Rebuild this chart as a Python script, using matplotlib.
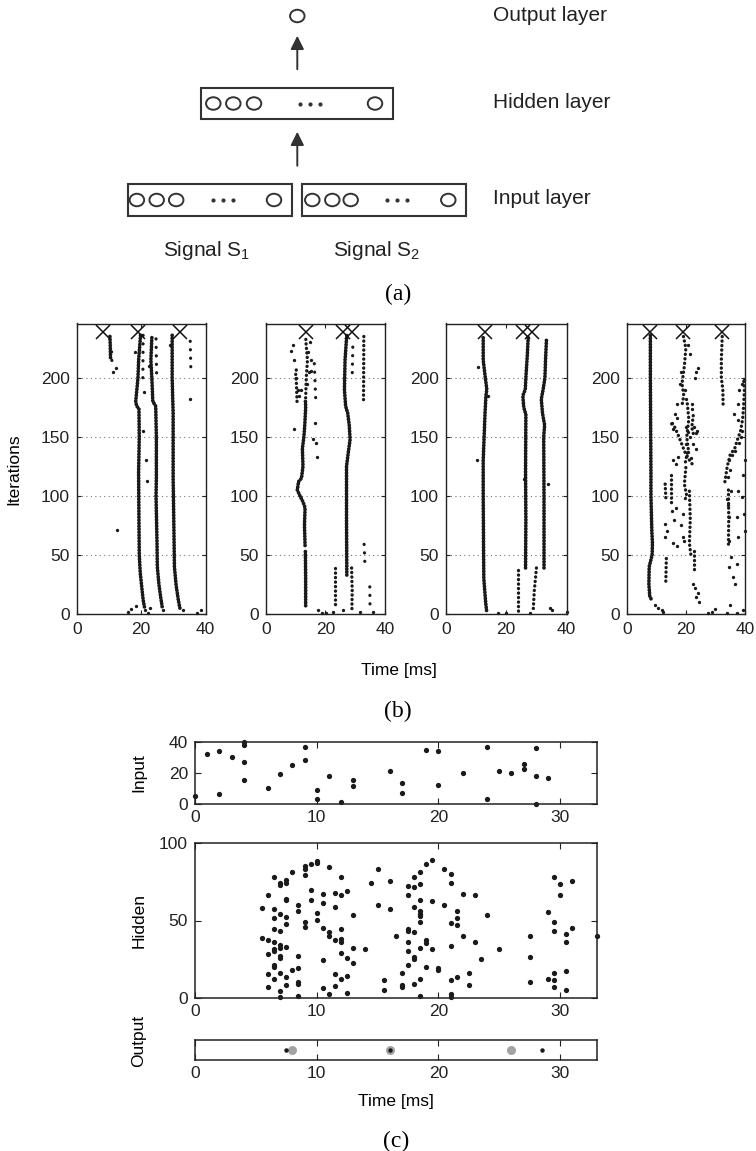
import matplotlib
matplotlib.use("Agg")
import matplotlib.pyplot as plt
from matplotlib.patches import Rectangle, Ellipse

plt.rcParams['font.family'] = ['Liberation Sans', 'DejaVu Sans']

# ---------------- data: panel (b) ----------------
cross_it = 239
b1_cross_t = [8, 19, 32]
b1_dense = [
    [(19.8, 236), (19.2, 215), (19.0, 200), (18.3, 180), (18.6, 176), (19.3, 174), (19.4, 150),
     (19.2, 120), (19.3, 80), (19.4, 50), (19.7, 35), (20.2, 22), (20.6, 12), (21.0, 6)],
    [(23.3, 234), (23.0, 215), (23.3, 200), (23.6, 180), (24.5, 176), (24.7, 150), (24.7, 115),
     (24.6, 100), (24.9, 60), (25.0, 40), (25.5, 25), (26.0, 15), (26.5, 6)],
    [(29.6, 236), (29.6, 200), (29.9, 170), (29.9, 115), (30.1, 80), (30.3, 40), (30.8, 25),
     (31.5, 12), (32.0, 5)],
    [(10.3, 235), (10.4, 228), (10.5, 215)],
]
b1_sparse = [
    [(20.6, 236), (20.5, 196)],
    [(24.6, 233), (24.8, 200)],
    [(35.2, 231), (35.4, 207)],
    [(10.8, 222), (11.0, 208)],
]
b1_dots_t = [11.3, 12.2, 12.4, 35.2, 21.5, 21.9, 20.5, 16.0, 16.8, 18.4, 21.2, 22.2, 26.9, 33.0,
             37.2, 38.5, 22.6, 18.0, 20.9, 22.5, 29.0]
b1_dots_it = [205, 208, 71, 182, 130, 113, 155, 2, 4.5, 7, 3, 1, 3, 3, 1, 3, 5, 222, 188, 210, 228]

b2_cross_t = [13.4, 25.8, 29.0]
b2_dense = [
    [(27.2, 33), (27.1, 80), (27.1, 125), (27.6, 135), (28.3, 148), (28.0, 160), (27.5, 170),
     (26.8, 176), (26.4, 190), (26.6, 215), (27.0, 230), (27.2, 236)],
    [(13.4, 7), (13.4, 30), (13.3, 53)],
    [(13.2, 58), (13.0, 75), (13.2, 90), (12.5, 95), (11.5, 100), (10.6, 105), (11.0, 112),
     (12.0, 115), (12.5, 125), (12.3, 140), (12.8, 150), (13.1, 160), (13.4, 175), (13.3, 182)],
]
b2_medium = [
    [(10.5, 180), (10.3, 195), (10.0, 205), (10.8, 210)],
    [(13.4, 183), (13.6, 200), (14.0, 215), (13.5, 230), (13.4, 236)],
    [(32.9, 235), (32.8, 181)],
    [(23.3, 39), (23.3, 5)],
    [(28.8, 39), (29.0, 20), (28.9, 3)],
]
b2_sparse = [
    [(16.3, 212), (16.8, 180)],
    [(29.2, 226), (29.0, 200)],
    [(33.0, 59), (33.3, 40)],
    [(34.9, 23), (35.0, 2)],
]
b2_dots_t = [15.9, 16.7, 16.5, 17.3, 9.5, 8.6, 9.3, 11.8, 14.5, 14.3, 15.3, 17.6, 19.0, 20.2,
             22.4, 25.8, 31.5, 36.0, 9.5, 10.2, 10.8, 11.3, 14.8, 15.2, 13.8]
b2_dots_it = [148, 145, 162, 133, 157, 223, 228, 190, 205, 222, 206, 3, 1, 1, 2, 3, 2, 2,
              215, 200, 190, 185, 230, 215, 195]

b3_cross_t = [13.0, 25.5, 28.6]
b3_dense = [
    [(13.5, 3), (13.2, 10), (12.6, 30), (12.5, 60), (12.4, 100), (12.4, 130), (12.7, 150),
     (13.0, 170), (13.3, 185), (13.6, 190), (13.1, 200), (12.4, 215), (12.4, 236)],
    [(26.4, 39), (26.5, 80), (26.4, 120), (26.5, 169), (25.8, 175), (25.5, 185), (26.3, 190),
     (26.5, 200), (27.0, 220), (27.3, 236)],
    [(32.5, 39), (32.5, 100), (32.4, 150), (32.7, 160), (32.0, 170), (31.6, 182), (32.2, 190),
     (32.8, 200), (33.0, 215), (33.3, 232)],
]
b3_medium = [
    [(24.0, 37), (24.0, 2)],
    [(30.0, 39), (29.3, 20), (28.9, 2)],
]
b3_dots_t = [10.4, 10.6, 34.4, 35.0, 17.4, 20.0, 40.0, 28.0, 14.0, 25.8, 33.8]
b3_dots_it = [130, 209, 5, 3, 1, 1, 2, 1, 185, 114, 110]

b4_cross_t = [7.9, 19.2, 32.3]
b4_dense = [
    [(8.0, 236), (8.0, 200), (8.1, 160), (8.2, 120), (8.2, 100), (8.5, 70), (8.7, 60),
     (8.6, 50), (7.6, 40), (7.5, 25), (7.8, 15), (8.6, 11)],
]
b4_medium = [
    [(19.2, 235), (20.0, 225), (19.5, 210), (18.7, 195), (19.3, 185), (18.8, 178)],
    [(15.0, 118), (15.0, 93)],
    [(20.0, 124), (19.5, 110), (20.3, 100), (19.3, 95)],
    [(21.2, 104), (21.5, 80), (21.2, 60), (21.8, 48)],
    [(22.9, 53), (22.9, 36)],
    [(32.3, 235), (32.0, 215), (32.0, 200), (32.5, 190), (32.6, 177)],
    [(34.4, 105), (34.5, 80), (34.4, 58)],
    [(13.4, 47), (13.2, 25)],
    [(13.0, 110), (13.3, 95)],
    [(33.2, 112), (34.0, 125), (35.0, 135), (36.5, 140), (37.5, 148), (38.5, 155), (39.2, 165),
     (39.5, 175), (39.8, 190), (39.5, 200)],
    [(15.2, 161), (16.3, 158), (17.5, 151), (18.6, 144), (19.7, 137), (21.5, 129), (22.5, 126)],
    [(20.5, 178), (21.0, 165), (20.3, 150), (20.8, 140), (19.8, 128)],
    [(22.5, 168), (22.0, 158), (22.8, 150)],
]
b4_dots_t = [9.5, 10.5, 11.8, 23.5, 24.0, 23.2, 22.0, 22.0, 16.9, 16.3, 16.9, 15.2, 15.8,
             20.2, 20.7, 21.3, 20.2, 20.7, 21.8, 22.9, 23.5, 23.9, 22.5, 23.5, 15.8, 16.6, 17.5,
             13.0, 13.5, 13.0, 15.2, 16.0, 15.5, 17.0, 18.5, 19.0, 19.2, 19.3, 16.8,
             22.5, 23.0, 24.0, 24.5, 23.5,
             38.0, 39.0, 39.5, 37.8, 36.4, 37.8, 39.0, 38.6, 38.0, 36.6, 35.5, 34.7, 34.9, 34.1,
             35.2, 39.4, 40.0, 33.8, 34.2, 34.6, 34.6, 35.3, 34.6, 36.0, 36.6, 37.2, 37.7, 37.2,
             38.9, 40.0, 39.7, 37.7,
             27.6, 28.7, 29.9, 33.8, 34.9, 37.2, 39.4, 12.4,
             21.5, 20.8, 18.2, 18.0, 19.6, 20.2]
b4_dots_it = [8, 5, 3, 205, 208, 200, 178, 174, 178, 169, 166, 162, 157,
              158, 154, 150, 144, 137, 132, 158, 153, 155, 144, 140, 130, 127, 133,
              76, 70, 65, 87, 80, 60, 58, 75, 85, 65, 62, 90,
              25, 22, 18, 10, 14,
              190, 195, 198, 178, 169, 164, 155, 150, 145, 138, 135, 130, 122, 116,
              104, 118, 130, 97, 92, 82, 62, 48, 40, 31, 25, 42, 65, 82,
              99, 70, 85, 104,
              1, 2, 4, 1, 8, 1, 3, 2,
              220, 228, 205, 195, 190, 182]

# ---------------- data: panel (c) ----------------
input_t = [0, 1, 2, 2, 3, 4, 4, 4, 4, 6, 7, 8, 9, 9, 10, 10, 11, 12, 13, 13, 16, 17, 17,
           19, 20, 20, 22, 24, 24, 25, 26, 27, 27, 28, 28, 28, 29]
input_n = [5, 32, 34, 6.5, 30.5, 40, 38, 27, 15.5, 10.5, 19.5, 25, 36.5, 28.5, 9, 3, 18, 1,
           15.5, 11.5, 21.5, 13.5, 7, 35, 34, 12.5, 20, 36.5, 3, 21.5, 20, 25.5, 22.5, 36,
           18, 0, 16.5]

hidden_t = [5.5, 5.5, 6, 6, 6, 6, 6,
            6.5, 6.5, 6.5, 6.5, 6.5, 6.5, 6.5, 6.5, 6.5, 6.5,
            7, 7, 7, 7, 7, 7, 7, 7, 7, 7, 7,
            7.5, 7.5, 7.5, 7.5, 7.5, 7.5, 7.5, 7.5, 7.5,
            8, 8,
            8.5, 8.5, 8.5, 8.5, 8.5, 8.5, 8.5,
            9, 9, 9, 9, 9,
            9.5, 9.5, 9.5,
            10, 10, 10, 10,
            10.5, 10.5, 10.5, 10.5, 10.5,
            11, 11, 11, 11,
            11.5, 11.5, 11.5, 11.5, 11.5,
            12, 12, 12, 12, 12, 12, 12,
            12.5, 12.5, 12.5, 12.5,
            13, 13, 13,
            14, 14.5, 15, 15, 15.5, 15.5, 16, 16, 16.5,
            17, 17, 17,
            17.5, 17.5, 17.5, 17.5, 17.5, 17.5, 17.5,
            18, 18, 18, 18, 18, 18, 18,
            18.5, 18.5, 18.5, 18.5, 18.5, 18.5, 18.5, 18.5, 18.5, 18.5,
            19, 19, 19, 19,
            19.5, 19.5, 19.5,
            20, 20,
            20.5, 20.5,
            21, 21, 21, 21, 21, 21, 21,
            21.5, 21.5, 21.5, 21.5,
            22, 22, 22.5, 22.5, 23, 23, 23.5, 24, 25,
            27.5, 27.5, 27.5,
            29, 29,
            29.5, 29.5, 29.5, 29.5, 29.5, 29.5,
            30, 30,
            30.5, 30.5, 30.5, 30.5,
            31, 31,
            33]
hidden_n = [58, 39, 66.5, 37.5, 28.5, 15.5, 7,
            78, 57.5, 51.5, 44.5, 36, 31.5, 30.5, 21.5, 20, 12.5,
            73, 74.5, 54, 43.5, 34, 32.5, 27, 25.5, 16, 4.5, 0.5,
            76, 74, 64, 63, 52, 48, 33, 13.5, 8.5,
            81, 18,
            60, 56, 27, 19.5, 10.5, 9, 1.5,
            85, 83, 79.5, 49, 46,
            86.5, 70, 63,
            88.5, 87, 55, 50.5,
            67, 61, 45, 24.5, 6.5,
            84.5, 42.5, 40, 2.8,
            68, 59, 37.5, 15.5, 7.5,
            78, 66.5, 44.5, 38, 36, 29, 12.5,
            69, 25.5, 14.5, 3.2,
            53.5, 32.3, 22.6,
            31.6, 74, 83, 60, 11.4, 5.2, 75.5, 57.4, 40,
            16, 8.6, 7.1,
            72.3, 66.5, 44.5, 43.4, 36, 30.3, 21.3,
            78, 71.6, 59, 42.8, 26.5, 25.2, 9,
            81.3, 73.8, 63.2, 56, 54.4, 53, 49, 32.3, 12.3, 1.5,
            86.7, 37.6, 35.5, 20.2,
            89, 62.8, 31.6,
            19.4, 17.8,
            83.2, 60,
            80, 74.2, 48.4, 33.3, 11.4, 2.8, 0.5,
            56.3, 51.6, 46.9, 13.5,
            66.9, 40, 16.1, 8.4, 66.5, 36.1, 25.2, 53.5, 31.6,
            40, 26.5, 10.3,
            55.7, 12.3,
            78, 49, 43.2, 16.1, 11.8, 7.1,
            73.5, 66.5,
            41.3, 36.1, 17.4, 5.2,
            75.5, 45.2,
            40]

output_black_t = [7.5, 16.0, 28.5]
output_gray_t = [8.0, 16.0, 26.0]

# ---------------- figure ----------------
W, H = 756, 1151
fig = plt.figure(figsize=(W / 100, H / 100), dpi=100)


def px_axes(l, t, r, b):
    return fig.add_axes([l / W, 1 - b / H, (r - l) / W, (b - t) / H])


INK = '#1a1a1a'

# ---- panel (a): network diagram, in pixel coordinates ----
ax0 = fig.add_axes([0, 0, 1, 1], zorder=0)
ax0.set_xlim(0, W)
ax0.set_ylim(H, 0)
ax0.axis('off')


def neuron(x, y):
    ax0.add_patch(Ellipse((x, y), 14.5, 12.5, fill=False, lw=1.4, ec='#333'))


def dots3(x0, y):
    ax0.plot([x0, x0 + 10, x0 + 20], [y, y, y], ls='none', marker='o', ms=2.0, color='#333')


neuron(297.3, 16)
ax0.annotate('', xy=(297.3, 33), xytext=(297.3, 72),
             arrowprops=dict(arrowstyle='-|>', color='#333', lw=1.4, mutation_scale=20))
ax0.annotate('', xy=(297.3, 129), xytext=(297.3, 168.5),
             arrowprops=dict(arrowstyle='-|>', color='#333', lw=1.4, mutation_scale=20))
ax0.add_patch(Rectangle((200.7, 88.3), 192, 31, fill=False, lw=1.5, ec='#333'))
for cx in (213.3, 233.3, 254):
    neuron(cx, 103.5)
neuron(375, 103.5)
dots3(300, 103.5)
for bx, cxs, dx, last in [(127.7, (136.9, 156.7, 176.2), 213, 274),
                          (301.7, (312.3, 332.3, 350.7), 387, 448.3)]:
    ax0.add_patch(Rectangle((bx, 184.3), 164.3, 31.7, fill=False, lw=1.5, ec='#333'))
    for cx in cxs:
        neuron(cx, 200)
    neuron(last, 200)
    dots3(dx, 200)

ax0.text(493, 15, 'Output layer', fontsize=15, va='center', ha='left', color='#222')
ax0.text(493, 102, 'Hidden layer', fontsize=15, va='center', ha='left', color='#222')
ax0.text(493, 198, 'Input layer', fontsize=15, va='center', ha='left', color='#222')
ax0.text(206.7, 250, r'Signal $\mathregular{S_1}$', fontsize=15, va='center', ha='center', color='#222')
ax0.text(376.8, 250, r'Signal $\mathregular{S_2}$', fontsize=15, va='center', ha='center', color='#222')
serif = ['Liberation Serif', 'DejaVu Serif']
ax0.text(398, 294, '(a)', fontsize=17, family=serif, va='center', ha='center')
ax0.text(398, 711, '(b)', fontsize=17, family=serif, va='center', ha='center')
ax0.text(396, 1141, '(c)', fontsize=17, family=serif, va='center', ha='center')

# ---- panel (b) ----
b_boxes = [(76.7, 205.7), (265.7, 385.0), (445.7, 566.7), (626.7, 745.0)]
b_sets = [
    (b1_cross_t, b1_dense, [], b1_sparse, b1_dots_t, b1_dots_it),
    (b2_cross_t, b2_dense, b2_medium, b2_sparse, b2_dots_t, b2_dots_it),
    (b3_cross_t, b3_dense, b3_medium, [], b3_dots_t, b3_dots_it),
    (b4_cross_t, b4_dense, b4_medium, [], b4_dots_t, b4_dots_it),
]


def trace(ax, pts, gap, lw):
    xs = [p[0] for p in pts]
    ys = [p[1] for p in pts]
    ax.plot(xs, ys, color=INK, lw=lw, ls=(0, (0.05, gap)), dash_capstyle='round')


for i, ((l, r), (ct, dense, medium, sparse, dt, dit)) in enumerate(zip(b_boxes, b_sets)):
    ax = px_axes(l, 323.5, r, 614)
    ax.set_xlim(0, 40)
    ax.set_ylim(0, 246)
    ax.set_yticks([0, 50, 100, 150, 200])
    ax.set_xticks([0, 20, 40])
    ax.yaxis.grid(True, ls=(0, (1, 3)), color='#777', lw=0.8)
    ax.set_axisbelow(True)
    ax.tick_params(direction='in', length=3, width=0.8, labelsize=12.5, top=True, right=True,
                   colors='#222')
    ax.tick_params(axis='x', pad=6)
    ax.tick_params(axis='y', pad=5)
    for s in ax.spines.values():
        s.set_linewidth(1.0)
        s.set_color('#222')
    for pts in dense:
        trace(ax, pts, 0.75, 2.7)
    for pts in medium:
        trace(ax, pts, 1.3, 2.4)
    for pts in sparse:
        trace(ax, pts, 2.6, 2.3)
    ax.plot(dt, dit, ls='none', marker='o', ms=2.4, color=INK, mew=0, clip_on=False)
    ax.plot(ct, [cross_it] * len(ct), ls='none', marker='x', ms=10, mew=1.1, color='#111',
            clip_on=False, zorder=5)
    if i == 0:
        ax.set_ylabel('Iterations', fontsize=12.5, labelpad=14)

fig.text(399 / W, 1 - 670 / H, 'Time [ms]', fontsize=12.5, ha='center', va='center')

# ---- panel (c) ----
def style_c(ax):
    ax.set_xlim(0, 33)
    ax.set_xticks([0, 10, 20, 30])
    ax.tick_params(direction='in', length=4, width=0.8, labelsize=12.5, top=True, right=True,
                   colors='#222')
    ax.tick_params(axis='x', pad=4)
    ax.tick_params(axis='y', pad=5)
    for s in ax.spines.values():
        s.set_linewidth(1.1)
        s.set_color('#222')


ax_in = px_axes(195, 742, 596.6, 804)
style_c(ax_in)
ax_in.set_ylim(0, 40)
ax_in.set_yticks([0, 20, 40])
ax_in.plot(input_t, input_n, ls='none', marker='o', ms=3.8, color=INK, mew=0, clip_on=False)

ax_hid = px_axes(195, 843, 596.6, 998)
style_c(ax_hid)
ax_hid.set_ylim(0, 100)
ax_hid.set_yticks([0, 50, 100])
ax_hid.plot(hidden_t, hidden_n, ls='none', marker='o', ms=3.8, color=INK, mew=0, clip_on=False)

ax_out = px_axes(195, 1040, 596.6, 1060)
style_c(ax_out)
ax_out.set_ylim(0, 2)
ax_out.set_yticks([])
ax_out.tick_params(axis='y', left=False, right=False)
ax_out.plot(output_gray_t, [1] * len(output_gray_t), ls='none', marker='o', ms=6.5,
            color='#a3a3a3', mew=0, zorder=3)
ax_out.plot(output_black_t, [1] * len(output_black_t), ls='none', marker='o', ms=3.2,
            color=INK, mew=0, zorder=4)
ax_out.set_xlabel('Time [ms]', fontsize=12.5, labelpad=10)

fig.text(139 / W, 1 - 773 / H, 'Input', fontsize=12.5, rotation=90, ha='center', va='center')
fig.text(139 / W, 1 - 920 / H, 'Hidden', fontsize=12.5, rotation=90, ha='center', va='center')
fig.text(139 / W, 1 - 1041 / H, 'Output', fontsize=12.5, rotation=90, ha='center', va='center')

fig.savefig('out.png', dpi=100)
